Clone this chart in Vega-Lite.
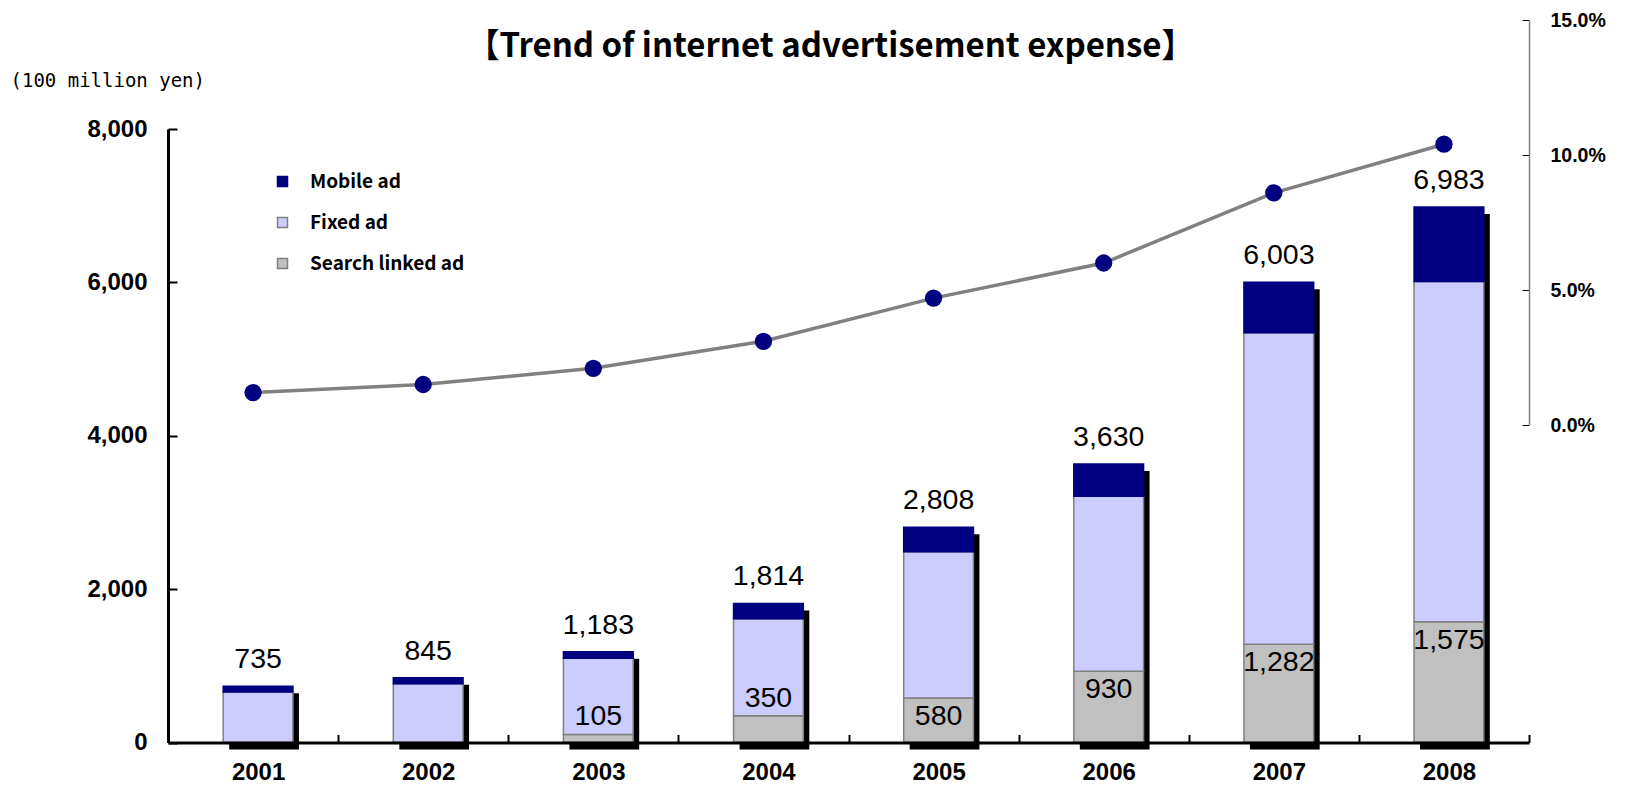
{
  "$schema": "https://vega.github.io/schema/vega-lite/v6.json",
  "width": 1361,
  "height": 722.5,
  "autosize": {"type": "none"},
  "padding": {"left": 168, "top": 20, "right": 97, "bottom": 45.5},
  "background": "white",
  "config": {
    "view": {"stroke": null},
    "axis": {"grid": false},
    "legend": {
      "orient": "none",
      "legendX": 105,
      "legendY": 152,
      "symbolType": "square",
      "symbolSize": 100,
      "symbolStrokeWidth": 1.5,
      "labelFont": "Noto Sans CJK JP",
      "labelFontWeight": "bold",
      "labelFontSize": 19,
      "labelColor": "black",
      "labelOffset": 18,
      "rowPadding": 21,
      "padding": 0,
      "title": null
    }
  },
  "title": {
    "text": "【Trend of internet advertisement expense】",
    "anchor": "middle",
    "frame": "group",
    "offset": 0,
    "baseline": "middle",
    "dy": 70,
    "dx": -18,
    "font": "Noto Sans CJK JP",
    "fontSize": 33,
    "fontWeight": "bold",
    "color": "black"
  },
  "datasets": {
    "segments": [
      {"year": "2001", "type": "Search linked ad", "value": 0, "rank": 1},
      {"year": "2001", "type": "Fixed ad", "value": 660, "rank": 2},
      {"year": "2001", "type": "Mobile ad", "value": 75, "rank": 3},
      {"year": "2002", "type": "Search linked ad", "value": 0, "rank": 1},
      {"year": "2002", "type": "Fixed ad", "value": 765, "rank": 2},
      {"year": "2002", "type": "Mobile ad", "value": 80, "rank": 3},
      {"year": "2003", "type": "Search linked ad", "value": 105, "rank": 1},
      {"year": "2003", "type": "Fixed ad", "value": 993, "rank": 2},
      {"year": "2003", "type": "Mobile ad", "value": 85, "rank": 3},
      {"year": "2004", "type": "Search linked ad", "value": 350, "rank": 1},
      {"year": "2004", "type": "Fixed ad", "value": 1264, "rank": 2},
      {"year": "2004", "type": "Mobile ad", "value": 200, "rank": 3},
      {"year": "2005", "type": "Search linked ad", "value": 580, "rank": 1},
      {"year": "2005", "type": "Fixed ad", "value": 1908, "rank": 2},
      {"year": "2005", "type": "Mobile ad", "value": 320, "rank": 3},
      {"year": "2006", "type": "Search linked ad", "value": 930, "rank": 1},
      {"year": "2006", "type": "Fixed ad", "value": 2280, "rank": 2},
      {"year": "2006", "type": "Mobile ad", "value": 420, "rank": 3},
      {"year": "2007", "type": "Search linked ad", "value": 1282, "rank": 1},
      {"year": "2007", "type": "Fixed ad", "value": 4061, "rank": 2},
      {"year": "2007", "type": "Mobile ad", "value": 660, "rank": 3},
      {"year": "2008", "type": "Search linked ad", "value": 1575, "rank": 1},
      {"year": "2008", "type": "Fixed ad", "value": 4438, "rank": 2},
      {"year": "2008", "type": "Mobile ad", "value": 970, "rank": 3}
    ],
    "years": [
      {"year": "2001", "total": 735, "search": 0, "share": 0.012},
      {"year": "2002", "total": 845, "search": 0, "share": 0.015},
      {"year": "2003", "total": 1183, "search": 105, "share": 0.021},
      {"year": "2004", "total": 1814, "search": 350, "share": 0.031},
      {"year": "2005", "total": 2808, "search": 580, "share": 0.047},
      {"year": "2006", "total": 3630, "search": 930, "share": 0.060},
      {"year": "2007", "total": 6003, "search": 1282, "share": 0.086},
      {"year": "2008", "total": 6983, "search": 1575, "share": 0.104}
    ]
  },
  "encoding": {
    "x": {
      "field": "year",
      "type": "ordinal",
      "scale": {"paddingInner": 0, "paddingOuter": 0},
      "axis": {
        "title": null,
        "zindex": 1,
        "domainColor": "black",
        "domainWidth": 3,
        "tickBand": "extent",
        "tickSize": -8,
        "tickColor": "black",
        "tickWidth": 2,
        "labelAngle": 0,
        "labelFont": "Liberation Sans",
        "labelFontSize": 24,
        "labelFontWeight": "bold",
        "labelColor": "black",
        "labelBaseline": "middle",
        "labelPadding": 38,
        "labelOffset": 5
      }
    }
  },
  "layer": [
    {
      "data": {"name": "years"},
      "mark": {"type": "bar", "width": {"band": 0.41}, "color": "black", "xOffset": 11, "yOffset": 7},
      "encoding": {
        "y": {"field": "total", "type": "quantitative", "scale": {"domain": [0, 8000], "range": [722.5, 109], "nice": false}, "axis": null}
      }
    },
    {
      "data": {"name": "segments"},
      "mark": {"type": "bar", "width": {"band": 0.41}, "xOffset": 5, "strokeWidth": 1.5},
      "encoding": {
        "y": {
          "field": "value",
          "type": "quantitative",
          "stack": "zero",
          "scale": {"domain": [0, 8000], "range": [722.5, 109], "nice": false},
          "axis": {
            "orient": "left",
            "values": [0, 2000, 4000, 6000, 8000],
            "format": ",d",
            "zindex": 1,
            "domainColor": "black",
            "domainWidth": 3,
            "tickSize": -9,
            "tickColor": "black",
            "tickWidth": 2,
            "labelPadding": 30,
            "labelFont": "Liberation Sans",
            "labelFontSize": 24,
            "labelFontWeight": "bold",
            "labelColor": "black",
            "title": "(100 million yen)",
            "titleAngle": 0,
            "titleX": -158,
            "titleY": 60,
            "titleAlign": "left",
            "titleBaseline": "middle",
            "titleFont": "DejaVu Sans Mono",
            "titleFontSize": 19,
            "titleFontWeight": "normal",
            "titleColor": "black"
          }
        },
        "order": {"field": "rank", "type": "quantitative", "sort": "ascending"},
        "color": {
          "field": "type",
          "type": "nominal",
          "scale": {"domain": ["Mobile ad", "Fixed ad", "Search linked ad"], "range": ["#000080", "#CCCCFF", "#C0C0C0"]}
        },
        "stroke": {
          "field": "type",
          "type": "nominal",
          "scale": {"domain": ["Mobile ad", "Fixed ad", "Search linked ad"], "range": ["#000080", "#808080", "#808080"]}
        }
      }
    },
    {
      "data": {"name": "years"},
      "mark": {"type": "text", "baseline": "middle", "dy": -27, "dx": 5, "font": "Liberation Sans", "fontSize": 28.5, "color": "black"},
      "encoding": {
        "y": {"field": "total", "type": "quantitative", "scale": {"domain": [0, 8000], "range": [722.5, 109], "nice": false}, "axis": null},
        "text": {"field": "total", "type": "quantitative", "format": ",d"}
      }
    },
    {
      "data": {"name": "years"},
      "transform": [{"filter": "datum.search >= 500"}],
      "mark": {"type": "text", "baseline": "middle", "dy": 18, "dx": 5, "font": "Liberation Sans", "fontSize": 28.5, "color": "black"},
      "encoding": {
        "y": {"field": "search", "type": "quantitative", "scale": {"domain": [0, 8000], "range": [722.5, 109], "nice": false}, "axis": null},
        "text": {"field": "search", "type": "quantitative", "format": ",d"}
      }
    },
    {
      "data": {"name": "years"},
      "transform": [{"filter": "datum.search > 0 && datum.search < 500"}],
      "mark": {"type": "text", "baseline": "middle", "dy": -18, "dx": 5, "font": "Liberation Sans", "fontSize": 28.5, "color": "black"},
      "encoding": {
        "y": {"field": "search", "type": "quantitative", "scale": {"domain": [0, 8000], "range": [722.5, 109], "nice": false}, "axis": null},
        "text": {"field": "search", "type": "quantitative", "format": ",d"}
      }
    },
    {
      "data": {"name": "years"},
      "mark": {"type": "line", "color": "#808080", "strokeWidth": 3.5},
      "encoding": {
        "y": {
          "field": "share",
          "type": "quantitative",
          "scale": {"domain": [0, 0.15], "range": [405, 0], "nice": false, "zero": false},
          "axis": {
            "orient": "right",
            "values": [0, 0.05, 0.1, 0.15],
            "format": ".1%",
            "domainColor": "#808080",
            "domainWidth": 1.5,
            "tickSize": -7,
            "tickColor": "black",
            "tickWidth": 1,
            "labelPadding": 28,
            "labelFont": "Liberation Sans",
            "labelFontSize": 19.5,
            "labelFontWeight": "bold",
            "labelColor": "black",
            "labelBaseline": "middle",
            "title": null
          }
        }
      }
    },
    {
      "data": {"name": "years"},
      "mark": {"type": "point", "filled": true, "color": "#000080", "size": 300, "opacity": 1},
      "encoding": {
        "y": {"field": "share", "type": "quantitative", "scale": {"domain": [0, 0.15], "range": [405, 0], "nice": false, "zero": false}, "axis": null}
      }
    }
  ],
  "resolve": {"scale": {"y": "independent"}}
}
